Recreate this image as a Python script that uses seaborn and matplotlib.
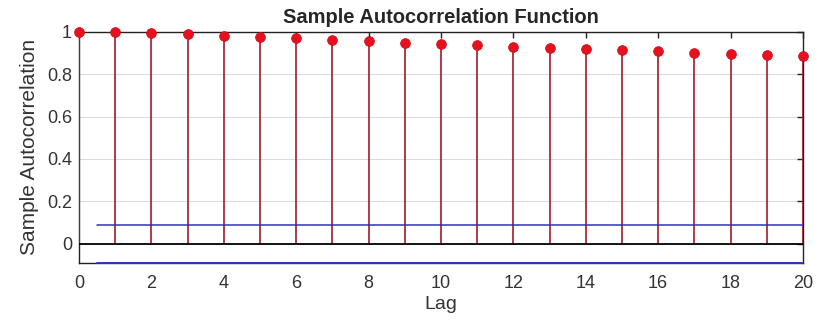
import matplotlib
matplotlib.use("Agg")
import matplotlib.pyplot as plt
import seaborn as sns
import pandas as pd
import numpy as np

lags = list(range(21))
acf = [1.000, 0.998, 0.996, 0.987, 0.982, 0.974, 0.968, 0.960, 0.955, 0.947,
       0.941, 0.935, 0.930, 0.921, 0.917, 0.912, 0.907, 0.901, 0.896, 0.890, 0.884]
bound = 0.089
bound_x = [0.5, 20]
xticks = list(range(0, 21, 2))
yticks = [0, 0.2, 0.4, 0.6, 0.8, 1]
ytick_labels = ["0", "0.2", "0.4", "0.6", "0.8", "1"]

sns.set_theme(style="white")
plt.rcParams['font.family'] = ['Liberation Sans', 'DejaVu Sans']

df = pd.DataFrame({"Lag": lags, "ACF": acf})

fig = plt.figure(figsize=(8.25, 3.22), dpi=100)
ax = fig.add_axes([0.0958, 0.184, 0.8775, 0.7176])

ax.set_xlim(0, 20)
ax.set_ylim(-bound, 1.0)
ax.set_yticks(yticks)
ax.set_yticklabels(ytick_labels)
ax.set_xticks(xticks)
ax.yaxis.grid(True, color="#dcdcdc", linewidth=0.8)
ax.set_axisbelow(True)

ax.vlines(df["Lag"], 0, df["ACF"], color="#9e1b2a", linewidth=1.2, zorder=3)
sns.scatterplot(data=df, x="Lag", y="ACF", ax=ax, color="#e8101c", s=50,
                edgecolor="#c8101c", linewidth=0.5, zorder=4, clip_on=False)
ax.axhline(0, color="black", linewidth=1.3, zorder=3)
ax.plot(bound_x, [bound, bound], color="#3030c0", linewidth=1.1, zorder=3)
ax.plot(bound_x, [-bound, -bound], color="#3030c0", linewidth=1.4, zorder=5, clip_on=False)

for s in ax.spines.values():
    s.set_color("#222222")
    s.set_linewidth(1.0)
ax.tick_params(axis="both", which="both", direction="in", top=True, right=True,
               length=4, width=1, color="#222222", labelsize=13, labelcolor="#333333")
ax.tick_params(axis="x", pad=9)
ax.tick_params(axis="y", pad=5)
ax.set_xlabel("Lag", fontsize=14, color="#333333", labelpad=3)
ax.set_ylabel("Sample Autocorrelation", fontsize=15, color="#333333", labelpad=6)
ax.set_title("Sample Autocorrelation Function", fontsize=14.5, fontweight="bold", pad=6)

fig.savefig("out.png", dpi=100)
